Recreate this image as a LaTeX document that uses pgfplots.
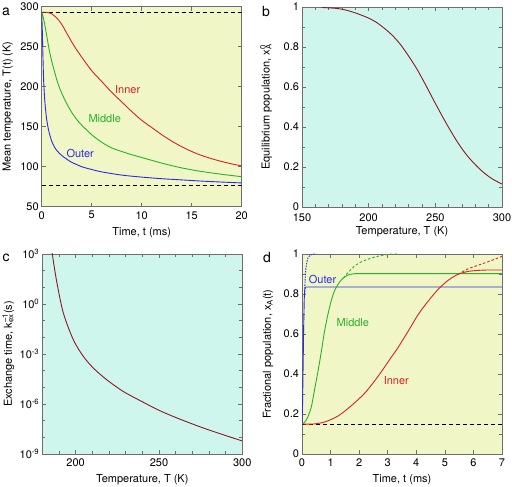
\documentclass[border=0pt]{standalone}
\usepackage{fontspec}
\setmainfont{TeX Gyre Heros}
\usepackage{pgfplots}
\pgfplotsset{compat=1.18}
\definecolor{bgY}{RGB}{240,246,198}
\definecolor{bgC}{RGB}{206,246,237}
\definecolor{cR}{RGB}{214,36,36}
\definecolor{cG}{RGB}{40,178,40}
\definecolor{cB}{RGB}{42,42,230}
\definecolor{cD}{RGB}{140,22,36}
\definecolor{axg}{RGB}{110,110,110}
\pgfplotsset{
  every axis/.append style={
    scale only axis, width=200pt, height=200pt,
    font=\fontsize{11}{13}\selectfont,
    /pgf/number format/assume math mode=true,
    axis line style={axg, line width=0.9pt},
    every tick/.style={axg, line width=0.6pt},
    tick align=inside,
    major tick length=4pt, minor tick length=3pt,
    xticklabel style={yshift=-1pt},
    yticklabel style={xshift=0.5pt},
    ylabel style={at={(axis description cs:-0.17,0.5)}, anchor=center, rotate=0},
    xlabel style={at={(axis description cs:0.5,-0.13)}, anchor=center},
    clip=true,
    /pgf/number format/fixed,
  },
}
\begin{document}
\begin{tikzpicture}[x=1pt,y=1pt]
\path[use as bounding box] (0,0) rectangle (512,487);
% ---------------- panel a
\begin{axis}[at={(41.7pt,280.3pt)}, anchor=south west,
  axis background/.style={fill=bgY},
  xmin=0, xmax=20, ymin=50, ymax=300,
  xtick={0,5,10,15,20}, ytick={50,100,150,200,250,300},
  xlabel={Time, t (ms)}, ylabel={Mean temperature, T(t) (K)}]
\addplot[black, line width=0.8pt, dash pattern=on 4pt off 3pt] coordinates {(0,293) (20,293)};
\addplot[black, line width=0.8pt, dash pattern=on 4pt off 3pt] coordinates {(0,77) (20,77)};
\addplot[cR, line width=0.9pt, smooth] coordinates {
(0,293) (0.5,293) (1.0,291) (1.5,286) (2.0,278) (2.5,267) (3.0,256) (3.5,246) (4.0,237)
(5.0,220) (6.0,206.5) (7.0,193) (8.0,181) (9.0,169) (10.0,158) (11.0,149) (12.0,140)
(13.0,132) (14.0,125) (15.0,119) (16.0,114) (17.0,110) (18.0,106.5) (19.0,103.5) (20.0,101)};
\addplot[cG, line width=0.9pt, smooth] coordinates {
(0,293) (0.15,287) (0.3,278) (0.5,264) (0.75,246) (1.0,232) (1.3,218) (1.6,205) (2.0,192)
(2.5,179) (3.0,168) (3.5,159) (4.0,152) (5.0,140) (6.0,130.5) (7.0,123.5) (8.0,119)
(9.0,115) (10.0,111.5) (12.0,104.5) (14.0,98.5) (16.0,94) (18.0,90.5) (20.0,87.5)};
\addplot[cB, line width=0.9pt, smooth] coordinates {
(0,293) (0.05,275) (0.1,250) (0.15,226) (0.2,206) (0.3,184) (0.4,170) (0.5,159) (0.7,145)
(1.0,132) (1.3,124) (1.6,119) (2.0,114) (2.5,109.5) (3.0,105.5) (4.0,100) (5.0,96.5)
(6.0,93.5) (8.0,89.5) (10.0,87) (12.0,85) (14.0,83.5) (16.0,82) (18.0,80.8) (20.0,79.7)};
\node[cR] at (axis cs:8.6,197) {Inner};
\node[cG] at (axis cs:6.3,159.6) {Middle};
\node[cB] at (axis cs:3.85,116) {Outer};
\end{axis}
% ---------------- panel b
\begin{axis}[at={(302pt,279.5pt)}, anchor=south west,
  axis background/.style={fill=bgC},
  xmin=150, xmax=300, ymin=0, ymax=1,
  xtick={150,200,250,300}, minor x tick num=4,
  ytick={0,0.2,0.4,0.6,0.8,1}, minor y tick num=1,
  xticklabel style={yshift=-1.5pt},
  yticklabel style={yshift=1pt},
  xlabel style={at={(axis description cs:0.5,-0.12)}},
  ylabel style={at={(axis description cs:-0.18,0.5)}},
  xlabel={Temperature, T (K)},
  ylabel={Equilibrium population, x\rlap{\textsubscript{A}}\textsuperscript{0}}]
\addplot[cD, line width=0.9pt, smooth] coordinates {
(165,1.0) (175,0.996) (181,0.990) (188.6,0.976) (198.6,0.951) (204.8,0.930) (211,0.900)
(217.4,0.863) (223.6,0.817) (229.9,0.758) (236.2,0.692) (242.4,0.617) (248.7,0.537)
(255,0.459) (261.2,0.386) (267.5,0.318) (273.7,0.261) (280,0.214) (286.2,0.175)
(292.5,0.144) (300,0.117)};
\end{axis}
% ---------------- panel c
\begin{axis}[at={(42.3pt,33pt)}, anchor=south west,
  axis background/.style={fill=bgC},
  ymode=log, log basis y=10,
  xmin=180, xmax=300, ymin=1e-9, ymax=1e3,
  xtick={200,250,300}, minor xtick={180,190,200,210,220,230,240,250,260,270,280,290,300},
  ytick={1e-9,1e-6,1e-3,1,1e3},
  yticklabels={10\textsuperscript{-9},10\textsuperscript{-6},10\textsuperscript{-3},10\textsuperscript{0},10\textsuperscript{3}},
  minor ytick={1e-8,1e-7,1e-5,1e-4,1e-2,1e-1,1e1,1e2},
  xlabel={Temperature, T (K)},
  ylabel={Exchange time, k\rlap{\textsubscript{ex}}\textsuperscript{--1}(s)}]
\addplot[cD, line width=0.9pt, smooth] coordinates {
(185.5,3e3) (186,1e3) (188.6,23.4) (192.6,0.295) (198.6,7.24e-3) (204.6,7.24e-4)
(210.6,1.445e-4) (218.6,2.88e-5) (228.6,5.62e-6) (238.6,1.62e-6) (250,4.2e-7)
(262.6,1.23e-7) (278.6,3.09e-8) (300,6.03e-9)};
\end{axis}
% ---------------- panel d
\begin{axis}[at={(302pt,33pt)}, anchor=south west,
  axis background/.style={fill=bgY},
  xmin=0, xmax=7, ymin=0, ymax=1,
  xtick={0,1,2,3,4,5,6,7},
  ytick={0,0.2,0.4,0.6,0.8,1}, minor y tick num=1,
  xlabel={Time, t (ms)},
  ylabel={Fractional population, x\textsubscript{A}(t)}]
\addplot[black, line width=0.8pt, dash pattern=on 4pt off 3pt] coordinates {(0,0.15) (7,0.15)};
\addplot[cB, line width=0.9pt, dash pattern=on 1.5pt off 1.2pt, smooth] coordinates {
(0.09,0.80) (0.12,0.90) (0.16,0.95) (0.21,0.98) (0.3,0.995) (0.4,1.0) (0.5,1.0)};
\addplot[cG, line width=0.9pt, dash pattern=on 2.5pt off 2pt, smooth] coordinates {
(1.45,0.88) (1.6,0.905) (1.8,0.935) (2.0,0.955) (2.2,0.968) (2.5,0.983) (2.8,0.993) (3.1,0.999) (3.4,1.0)};
\addplot[cR, line width=0.9pt, dash pattern=on 2.5pt off 2pt, smooth] coordinates {
(5.47,0.899) (5.8,0.925) (6.29,0.95) (6.6,0.966) (7,0.988)};
\addplot[cB, line width=0.9pt] coordinates {
(0,0.15) (0.02,0.25) (0.04,0.45) (0.06,0.65) (0.08,0.78) (0.1,0.825) (0.13,0.835) (7,0.835)};
\addplot[cG, line width=0.9pt, smooth] coordinates {
(0,0.15) (0.1,0.16) (0.21,0.187) (0.33,0.238) (0.44,0.322) (0.56,0.414) (0.68,0.515)
(0.79,0.615) (0.91,0.70) (1.03,0.77) (1.15,0.82) (1.27,0.85) (1.38,0.871) (1.5,0.886)
(1.61,0.895) (1.75,0.9) (1.9,0.902) (2.5,0.902) (7,0.902)};
\addplot[cR, line width=0.9pt, smooth] coordinates {
(0,0.15) (0.4,0.15) (0.79,0.16) (1.26,0.19) (1.73,0.242) (2.2,0.305) (2.66,0.388)
(3.13,0.485) (3.36,0.532) (3.72,0.615) (4.07,0.698) (4.42,0.765) (4.77,0.824)
(5.12,0.869) (5.47,0.899) (5.82,0.913) (6.17,0.918) (6.5,0.92) (7,0.92)};
\node[cB] at (axis cs:0.72,0.871) {Outer};
\node[cG] at (axis cs:1.78,0.658) {Middle};
\node[cR] at (axis cs:3.3,0.368) {Inner};
\end{axis}
\node[font=\fontsize{14}{16}\selectfont] at (6,475) {a};
\node[font=\fontsize{14}{16}\selectfont] at (266,475) {b};
\node[font=\fontsize{14}{16}\selectfont] at (6,229) {c};
\node[font=\fontsize{14}{16}\selectfont] at (267,229) {d};
\end{tikzpicture}
\end{document}
